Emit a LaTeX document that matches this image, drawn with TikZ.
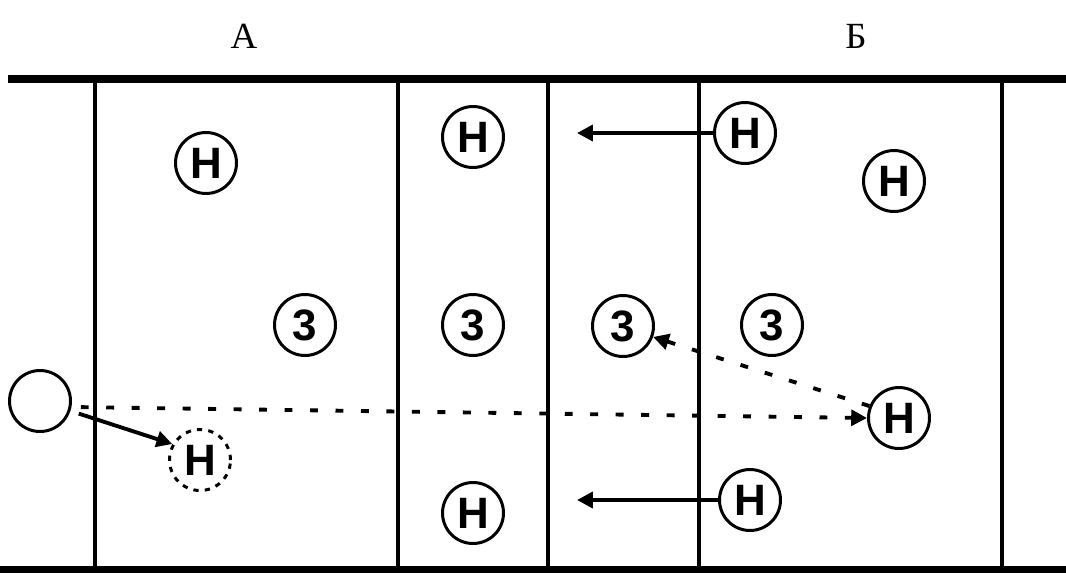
\documentclass[tikz,border=0pt]{standalone}
\usepackage{fontspec}
\setmainfont{Liberation Serif}
\newfontfamily\playerfont{Liberation Sans}
\usetikzlibrary{arrows.meta}
\begin{document}
\begin{tikzpicture}[
    x=0.02cm, y=-0.02cm,
    player/.style={circle, draw, line width=1.7pt, minimum size=1.22cm, inner sep=0pt, font=\playerfont\bfseries\fontsize{25}{25}\selectfont},
    ghost/.style={player, dashed, dash pattern=on 3pt off 3.5pt},
    zone/.style={line width=2.8pt},
    edge/.style={line width=4pt},
    move/.style={line width=2.2pt, -{Triangle[length=9pt, width=9pt]}},
    pass/.style={move, dash pattern=on 4.5pt off 10pt},
    sidelabel/.style={font=\fontsize{21}{21}\selectfont}
]
    \useasboundingbox (0,0) rectangle (1066,572);

    % court lines
    \draw[edge] (8,79) -- (1066,79);
    \draw[edge] (0,570) -- (1066,570);
    \foreach \x in {95,398,548,699,1002} {
        \draw[zone] (\x,79) -- (\x,572);
    }

    % sides
    \node[sidelabel] (sideA) at (244,36) {А};
    \node[sidelabel] (sideB) at (856,36) {Б};

    % players of side A
    \node[player] (hA1) at (206,163) {H};
    \node[player] (zA1) at (305,325) {3};
    \node[player] (hA2) at (473,137) {H};
    \node[player] (zA2) at (473,325) {3};
    \node[player] (hA3) at (473,513) {H};
    \node[ghost]  (hA4) at (200,460) {H};
    \node[player] (ball) at (40,401) {};

    % players of side B
    \node[player] (zB1) at (623,326) {3};
    \node[player] (zB2) at (772,325) {3};
    \node[player] (hB1) at (745,133) {H};
    \node[player] (hB2) at (750,500) {H};
    \node[player] (hB3) at (894,181) {H};
    \node[player] (hB4) at (899,418) {H};

    % runs and passes
    \coordinate (runB1) at (577,133);
    \coordinate (runB2) at (577,500);
    \draw[move] (hB1) -- (runB1);
    \draw[move] (hB2) -- (runB2);
    \draw[move, shorten <=5pt] (ball.-18) -- (hA4.150);
    \draw[pass, shorten <=5pt] (ball.east |- 0,407) -- (hB4.west);
    \draw[pass] (hB4.158) -- (zB1.-20);
\end{tikzpicture}
\end{document}
